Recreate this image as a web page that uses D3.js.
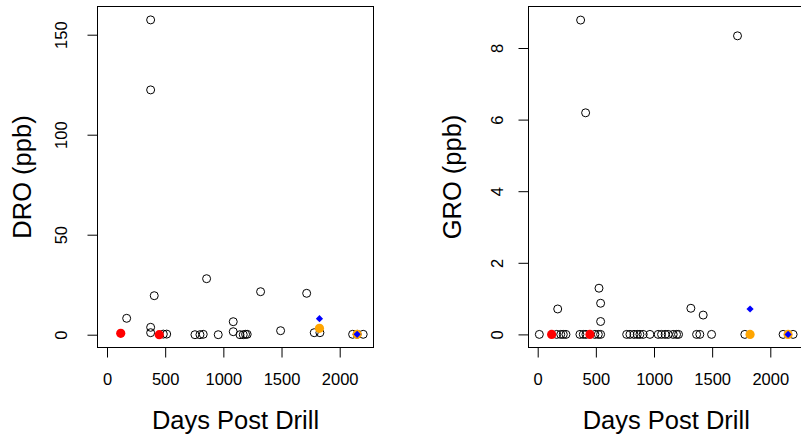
<!DOCTYPE html>
<html>
<head>
<meta charset="utf-8">
<script src="https://cdn.jsdelivr.net/npm/d3@7"></script>
<style>
  html, body { margin: 0; padding: 0; background: #fff; }
  svg { display: block; font-family: "Liberation Sans", Arial, Helvetica, sans-serif; }
</style>
</head>
<body>
<svg id="chart" width="801" height="439"></svg>
<script>
// ---------------- DATA ----------------
const xTicks = [0, 500, 1000, 1500, 2000];
const droTicks = [0, 50, 100, 150];
const groTicks = [0, 2, 4, 6, 8];

// DRO panel – open circles
const droDays = [375, 375, 375, 375, 406, 169, 856, 1320, 1716, 1492, 1085, 1085, 1781, 1830,
                 2111, 2150, 2202, 484, 513, 756, 799, 827, 956, 1143, 1171, 1191, 1205];
const droVals = [157.4, 122.4, 3.7, 1.0, 19.5, 8.2, 28.0, 21.5, 20.7, 2.0, 6.5, 1.5, 1.0, 1.0,
                 0.2, 0.2, 0.2, 0.3, 0.3, 0, 0, 0.2, 0, 0, 0, 0.2, 0.2];
// DRO panel – highlighted samples
const droRedDays = [118, 449];
const droRedVals = [0.7, 0];
const droOrangeDays = [1826, 2150];
const droOrangeVals = [3.2, 0.2];
const droBlueDays = [1826, 2150];
const droBlueVals = [8.0, 0.2];

// GRO panel – open circles
const groDays = [369, 412, 1718, 172, 527, 541, 541, 1317, 1423,
                 14, 163, 198, 220, 243, 363, 392, 415, 492, 521, 541,
                 765, 793, 828, 856, 879, 907, 965, 1036, 1065, 1096, 1122, 1165, 1194, 1211,
                 1366, 1394, 1495, 1781, 2110, 2196];
const groVals = [8.78, 6.19, 8.34, 0.71, 1.29, 0.87, 0.36, 0.73, 0.54,
                 0, 0, 0, 0, 0, 0, 0, 0, 0, 0, 0,
                 0, 0, 0, 0, 0, 0, 0, 0, 0, 0, 0, 0, 0, 0,
                 0, 0, 0, 0, 0, 0];
const groRedDays = [120, 449];
const groRedVals = [0, 0];
const groOrangeDays = [1826, 2153];
const groOrangeVals = [0, 0];
const groBlueDays = [1826, 2153];
const groBlueVals = [0.71, 0];

// ---------------- DRAW ----------------
const svg = d3.select("#chart");
const FONT_TICK = 16.5;
const FONT_TITLE = 25.5;

function panel(cfg) {
  const g = svg.append("g");
  const x = d3.scaleLinear().domain([0, 2000]).range([cfg.x0, cfg.x2000]);
  const y = d3.scaleLinear().domain([0, cfg.yTop]).range([cfg.y0, cfg.yTopPx]);

  // box
  g.append("rect")
    .attr("x", cfg.box[0]).attr("y", cfg.box[1])
    .attr("width", cfg.box[2] - cfg.box[0]).attr("height", cfg.box[3] - cfg.box[1])
    .attr("fill", "none").attr("stroke", "#000").attr("stroke-width", 1);

  // x axis
  const xa = g.append("g").attr("transform", `translate(0,${cfg.box[3]})`)
    .call(d3.axisBottom(x).tickValues(xTicks).tickSize(10).tickPadding(16).tickFormat(d3.format("d")));
  xa.select(".domain").remove();
  xa.selectAll("line").attr("stroke", "#000");
  xa.selectAll("text").attr("font-size", FONT_TICK).attr("fill", "#000")
    .attr("font-family", "Liberation Sans, Arial, sans-serif");

  // y axis
  const ya = g.append("g").attr("transform", `translate(${cfg.box[0]},0)`)
    .call(d3.axisLeft(y).tickValues(cfg.yTicks).tickSize(10).tickFormat(d3.format("d")));
  ya.select(".domain").remove();
  ya.selectAll("line").attr("stroke", "#000");
  ya.selectAll("text")
    .attr("font-size", FONT_TICK).attr("fill", "#000")
    .attr("font-family", "Liberation Sans, Arial, sans-serif")
    .attr("text-anchor", "middle")
    .attr("transform", "rotate(-90)")
    .attr("x", 0).attr("y", -cfg.tickLabOff).attr("dy", "0.35em");

  // titles
  g.append("text").attr("x", (cfg.box[0] + cfg.box[2]) / 2).attr("y", 420).attr("dy", "0.35em")
    .attr("text-anchor", "middle").attr("font-size", FONT_TITLE).text("Days Post Drill");
  g.append("text")
    .attr("transform", `translate(${cfg.ylabX},${(cfg.box[1] + cfg.box[3]) / 2}) rotate(-90)`)
    .attr("dy", "0.35em").attr("text-anchor", "middle").attr("font-size", FONT_TITLE).text(cfg.ylab);

  // points
  const pts = d3.zip(cfg.days, cfg.vals);
  g.append("g").selectAll("circle").data(pts).join("circle")
    .attr("cx", d => x(d[0])).attr("cy", d => y(d[1])).attr("r", 4)
    .attr("fill", "none").attr("stroke", "#000").attr("stroke-width", 1);

  g.append("g").selectAll("circle").data(d3.zip(cfg.redDays, cfg.redVals)).join("circle")
    .attr("cx", d => x(d[0])).attr("cy", d => y(d[1])).attr("r", 4.6).attr("fill", "#FF0000");
  g.append("g").selectAll("circle").data(d3.zip(cfg.orDays, cfg.orVals)).join("circle")
    .attr("cx", d => x(d[0])).attr("cy", d => y(d[1])).attr("r", 4.6).attr("fill", "#FFA500");
  const diamond = d3.symbol().type(d3.symbolSquare).size(26);
  g.append("g").selectAll("path").data(d3.zip(cfg.blDays, cfg.blVals)).join("path")
    .attr("d", diamond)
    .attr("transform", d => `translate(${x(d[0])},${y(d[1])}) rotate(45)`)
    .attr("fill", "#0000FF");
}

panel({
  x0: 107, x2000: 339.7, y0: 334.7, yTopPx: 34.7, yTop: 150,
  box: [97.5, 6.5, 373.5, 347.5], yTicks: droTicks, tickLabOff: 36, ylabX: 22,
  ylab: "DRO (ppb)",
  days: droDays, vals: droVals,
  redDays: droRedDays, redVals: droRedVals,
  orDays: droOrangeDays, orVals: droOrangeVals,
  blDays: droBlueDays, blVals: droBlueVals
});

panel({
  x0: 537.7, x2000: 770.3, y0: 334.4, yTopPx: 48, yTop: 8,
  box: [528.5, 6.5, 804, 347.5], yTicks: groTicks, tickLabOff: 31.5, ylabX: 452,
  ylab: "GRO (ppb)",
  days: groDays, vals: groVals,
  redDays: groRedDays, redVals: groRedVals,
  orDays: groOrangeDays, orVals: groOrangeVals,
  blDays: groBlueDays, blVals: groBlueVals
});
</script>
</body>
</html>
